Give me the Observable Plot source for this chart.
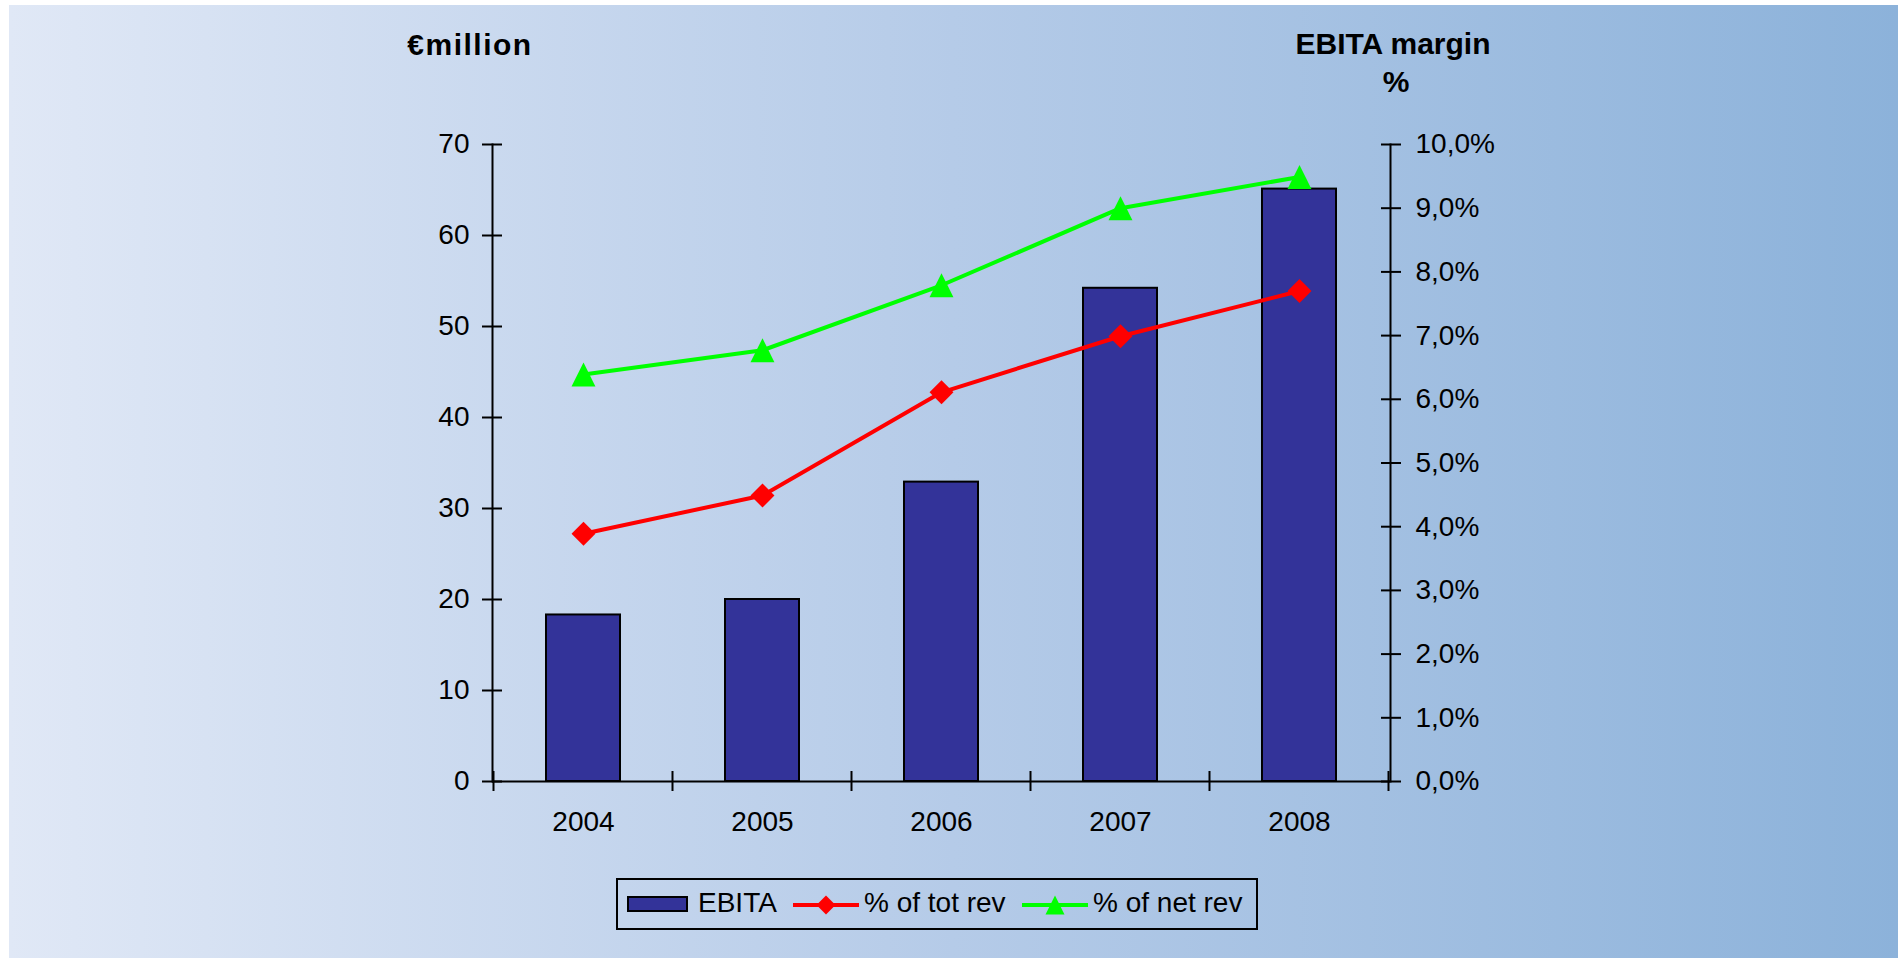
<!DOCTYPE html>
<html>
<head>
<meta charset="utf-8">
<script src="https://cdn.jsdelivr.net/npm/d3@7"></script>
<script src="https://cdn.jsdelivr.net/npm/@observablehq/plot@0.6"></script>
<style>
  html, body { margin: 0; padding: 0; background: #fff; width: 1898px; height: 961px; overflow: hidden;
    font-family: "Liberation Sans", Arial, sans-serif; }
  #bg { position: absolute; left: 9px; top: 5px; width: 1889px; height: 953px;
    background: linear-gradient(to right, #e0e8f6, #b5cbe8 50%, #8cb2da); }
  #chart { position: absolute; left: 0; top: 0; }
  .title { position: absolute; font-weight: bold; font-size: 30px; line-height: 30px;
    transform: translateX(-50%); white-space: nowrap; color: #000; }
  #legend { position: absolute; left: 616px; top: 878px; width: 638px; height: 48px;
    border: 2px solid #000; }
  #legend .item { position: absolute; font-size: 28px; line-height: 28px; white-space: nowrap; color: #000; }
  #legend svg { position: absolute; overflow: visible; }
</style>
</head>
<body>
<div id="bg"></div>
<div id="chart"></div>
<div class="title" style="left:470px; top:30px; letter-spacing:1.5px;">€million</div>
<div class="title" style="left:1393px; top:29px;">EBITA margin</div>
<div class="title" style="left:1396px; top:67px;">%</div>
<div id="legend"></div>
<script>
// ---- data ----
const years = ["2004", "2005", "2006", "2007", "2008"];
const ebita = [18.3, 20.0, 32.9, 54.2, 65.1];            // € million
const pctTotRev = [3.89, 4.49, 6.11, 6.99, 7.70];        // % of tot rev
const pctNetRev = [6.39, 6.77, 7.79, 9.00, 9.49];        // % of net rev
const leftTicks = [0, 10, 20, 30, 40, 50, 60, 70];
const rightTicks = [0, 1, 2, 3, 4, 5, 6, 7, 8, 9, 10];
const seriesNames = ["EBITA", "% of tot rev", "% of net rev"];

// ---- styles ----
const barColor = "#333399";
const totColor = "#ff0000";
const netColor = "#00ff00";
const PCT_TO_Y = 70 / 10; // secondary axis 0–10 % maps onto 0–70

const rows = years.map((year, i) => ({
  year, ebita: ebita[i], tot: pctTotRev[i] * PCT_TO_Y, net: pctNetRev[i] * PCT_TO_Y
}));

const diamondSym = { draw(ctx, size) { const a = Math.sqrt(size) / 2;
  ctx.moveTo(0, -a); ctx.lineTo(a, 0); ctx.lineTo(0, a); ctx.lineTo(-a, 0); ctx.closePath(); } };
const triangleSym = { draw(ctx, size) { const a = Math.sqrt(size) / 2;
  ctx.moveTo(0, -a); ctx.lineTo(a, a); ctx.lineTo(-a, a); ctx.closePath(); } };

function categoryEdgeTicks(index, scales) {
  const x = scales.x, y = scales.y;
  const step = x.step(), bw = x.bandwidth();
  const edges = x.domain().map(v => x(v) + bw / 2 - step / 2);
  edges.push(edges[edges.length - 1] + step);
  const y0 = y(0);
  const g = d3.create("svg:g").attr("stroke", "#000").attr("stroke-width", 2);
  g.selectAll("line").data(edges).join("line")
    .attr("x1", d => d).attr("x2", d => d).attr("y1", y0 - 10).attr("y2", y0 + 10);
  return g.node();
}

const pctFmt = d => (d / PCT_TO_Y).toFixed(1).replace(".", ",") + "%";

const chart = Plot.plot({
  width: 1898,
  height: 961,
  marginLeft: 492,
  marginRight: 508,
  marginTop: 144,
  marginBottom: 180,
  style: { background: "transparent", fontFamily: "Liberation Sans, Arial, sans-serif",
    fontSize: "28px", color: "#000", overflow: "visible" },
  x: { type: "band", domain: years, paddingInner: 0.584, paddingOuter: 0.292 },
  y: { domain: [0, 70] },
  marks: [
    Plot.barY(rows, { x: "year", y: "ebita", fill: barColor, stroke: "#000", strokeWidth: 2 }),
    Plot.ruleY([0], { stroke: "#000", strokeWidth: 2 }),
    Plot.frame({ anchor: "left", stroke: "#000", strokeWidth: 2 }),
    Plot.frame({ anchor: "right", stroke: "#000", strokeWidth: 2 }),
    Plot.axisY(leftTicks, { anchor: "left", tickSize: 20, dx: 10, tickFormat: () => "", label: null, stroke: "#000", strokeWidth: 2 }),
    Plot.axisY(leftTicks, { anchor: "left", tickSize: 0, tickPadding: 23, label: null, fontSize: 28 }),
    Plot.axisY(rightTicks.map(d => d * PCT_TO_Y), { anchor: "right", tickSize: 20, dx: -10, tickFormat: () => "", label: null, stroke: "#000", strokeWidth: 2 }),
    Plot.axisY(rightTicks.map(d => d * PCT_TO_Y), { anchor: "right", tickSize: 0, tickPadding: 25, tickFormat: pctFmt, label: null, fontSize: 28 }),
    Plot.axisX({ anchor: "bottom", tickSize: 0, tickPadding: 30, label: null, fontSize: 28 }),
    categoryEdgeTicks,
    Plot.line(rows, { x: "year", y: "tot", stroke: totColor, strokeWidth: 4 }),
    Plot.dot(rows, { x: "year", y: "tot", symbol: diamondSym, r: 13.5, fill: totColor, stroke: "none" }),
    Plot.line(rows, { x: "year", y: "net", stroke: netColor, strokeWidth: 4 }),
    Plot.dot(rows, { x: "year", y: "net", symbol: triangleSym, r: 13.5, fill: netColor, stroke: "none" })
  ]
});
document.getElementById("chart").appendChild(chart);

// ---- legend ----
const legend = d3.select("#legend");
legend.append("div").style("position", "absolute").style("left", "9px").style("top", "16px")
  .style("width", "61px").style("height", "16px").style("box-sizing", "border-box")
  .style("background", barColor).style("border", "2px solid #000");
legend.append("div").attr("class", "item").style("left", "80px").style("top", "9px").text(seriesNames[0]);

function lineSwatch(left, color, sym) {
  const s = legend.append("svg").attr("width", 66).attr("height", 30)
    .style("left", left + "px").style("top", "10px");
  s.append("line").attr("x1", 0).attr("x2", 66).attr("y1", 15).attr("y2", 15)
    .attr("stroke", color).attr("stroke-width", 4);
  const p = d3.path(); sym.draw(p, 19 * 19);
  s.append("path").attr("d", p.toString()).attr("transform", "translate(33,15)").attr("fill", color);
}
lineSwatch(175, totColor, diamondSym);
legend.append("div").attr("class", "item").style("left", "246px").style("top", "9px").text(seriesNames[1]);
lineSwatch(404, netColor, triangleSym);
legend.append("div").attr("class", "item").style("left", "475px").style("top", "9px").text(seriesNames[2]);
</script>
</body>
</html>
